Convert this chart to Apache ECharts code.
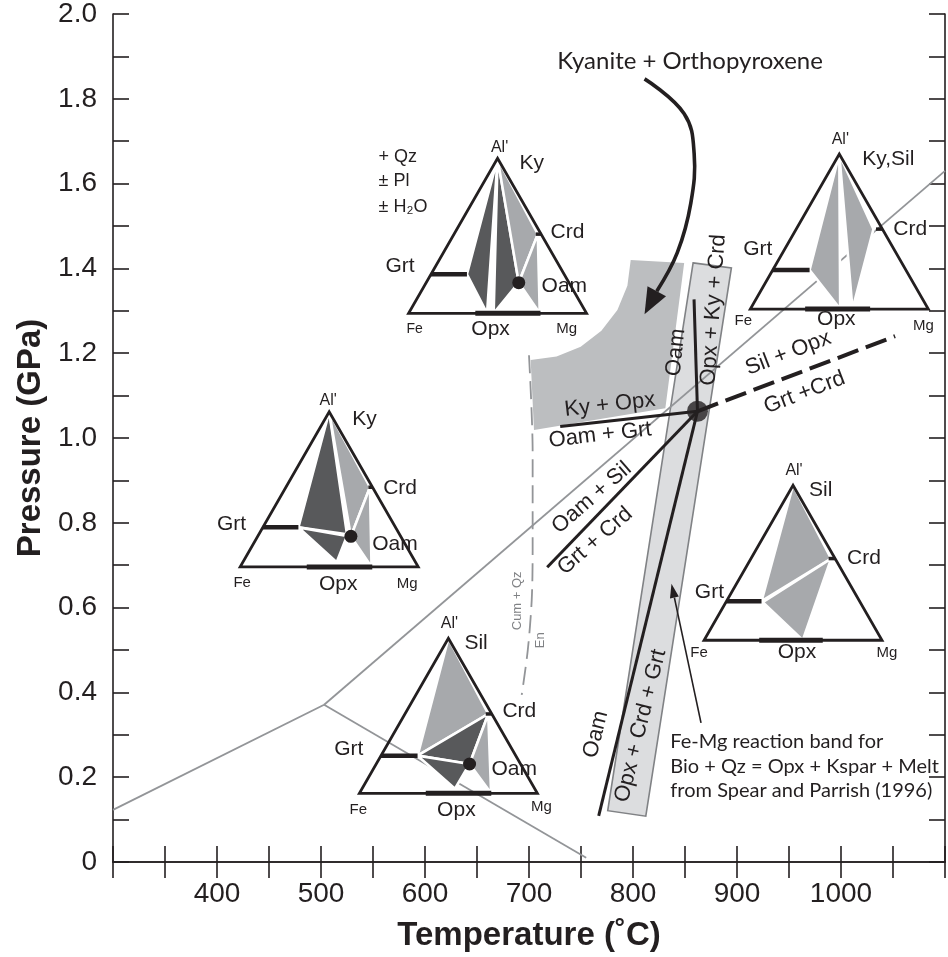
<!DOCTYPE html>
<html><head><meta charset="utf-8">
<script src="https://cdn.jsdelivr.net/npm/echarts@6/dist/echarts.min.js"></script>
<style>html,body{margin:0;padding:0;background:#fff}#c{width:948px;height:957px}</style>
</head><body><div id="c"></div>
<script>
// ===================== DATA (T in °C, P in GPa) =====================
const xLabelValues = [400, 500, 600, 700, 800, 900, 1000];
const yLabelValues = [0, 0.2, 0.4, 0.6, 0.8, 1.0, 1.2, 1.4, 1.6, 1.8, 2.0];

// Al2SiO5 triple-point reactions (thin grey)
const kyAnd = [[300, 0.123], [503, 0.371]];
const andSil = [[503, 0.371], [755, 0.01]];
const kySil = [[503, 0.371], [1100, 1.63]];

// invariant point and reactions (black)
const invariantPoint = [[862, 1.063]];
const kyOpxOamGrt = [[730, 1.027], [862, 1.063]];
const oamOpxKyCrd = [[858.7, 1.327], [862, 1.063]];
const oamSilGrtCrd = [[717.5, 0.695], [862, 1.063]];
const oamOpxCrdGrt = [[767, 0.109], [862, 1.063]];
const silOpxGrtCrd = [[862, 1.063], [1052, 1.240]];

// Cum + Qz = En (dashed grey)
const cumQzEn = [[700, 1.195], [703.5, 0.968], [703.5, 0.734], [702.6, 0.617], [698.8, 0.499], [693, 0.394]];

// Kyanite + Orthopyroxene field (concave upper-left boundary read point by point)
const kyOpxField = [[701.6, 1.184], [726.5, 1.192], [749.7, 1.215], [769.6, 1.253], [785.0, 1.302], [794.6, 1.359], [797.8, 1.420],
  [849.2, 1.413], [831.1, 1.070], [704.8, 1.019]];

// Fe-Mg reaction band (Spear & Parrish 1996)
const feMgBand = [[857.8, 1.413], [894.6, 1.401], [812.3, 0.108], [775.7, 0.121]];

// arrows
const kyOpxArrow = [[811.1, 1.847], [849.2, 1.765], [858.8, 1.671], [855.6, 1.554], [842.6, 1.437], [811.1, 1.292]];
const bandArrow = [[865.4, 0.328], [837.0, 0.656]];

// AFM-type ternary insets: anchor = Fe corner (T, P); compositions as (u along Fe-Mg, v toward Al')
const triAnchors = [[584.2, 1.294], [912.8, 1.304], [422.3, 0.696], [868.3, 0.523], [536.9, 0.162]];
const triPhases = [
  { // Ky field, + Qz ± Pl ± H2O
    polys: [['dark', [[0.5, 1], [0.328, 0.252], [0.441, 0]]], ['dark', [[0.5, 1], [0.478, 0], [0.619, 0.198]]],
            ['light', [[0.5, 1], [0.726, 0.511], [0.619, 0.198]]], ['light', [[0.726, 0.511], [0.619, 0.198], [0.737, 0]]]],
    grt: [0.328, 0.252], opx: [0.375, 0.741], crd: [0.715, 0.511], oam: [0.619, 0.198]
  },
  { // Ky,Sil
    polys: [['light', [[0.5, 1], [0.333, 0.252], [0.505, 0]]], ['light', [[0.5, 1], [0.574, 0], [0.692, 0.516]]]],
    grt: [0.333, 0.252], opx: [0.308, 0.673], crd: [0.706, 0.516], oam: null
  },
  { // Ky
    polys: [['dark', [[0.5, 1], [0.327, 0.255], [0.6, 0.21]]], ['dark', [[0.327, 0.255], [0.6, 0.2], [0.542, 0.03]]],
            ['light', [[0.5, 1], [0.729, 0.514], [0.622, 0.197]]], ['light', [[0.729, 0.514], [0.622, 0.197], [0.738, 0]]]],
    grt: [0.327, 0.255], opx: [0.374, 0.742], crd: [0.72, 0.514], oam: [0.622, 0.197]
  },
  { // Sil
    polys: [['light', [[0.5, 1], [0.323, 0.252], [0.714, 0.527]]], ['light', [[0.33, 0.245], [0.714, 0.527], [0.555, 0]]]],
    grt: [0.323, 0.252], opx: [0.31, 0.667], crd: [0.70, 0.527], oam: null
  },
  { // Sil with Oam
    polys: [['light', [[0.5, 1], [0.327, 0.243], [0.724, 0.512]]], ['dark', [[0.327, 0.243], [0.724, 0.512], [0.619, 0.189]]],
            ['dark', [[0.327, 0.243], [0.619, 0.189], [0.537, 0.03]]], ['light', [[0.724, 0.512], [0.619, 0.189], [0.74, 0]]]],
    grt: [0.327, 0.243], opx: [0.373, 0.741], crd: [0.71, 0.512], oam: [0.619, 0.189]
  }
];

// ===================== LAYOUT / STYLE =====================
const INK = '#231f20';
const FONT = '"Liberation Sans", Arial, sans-serif';
const HFONT = 'Lato, "Liberation Sans", sans-serif';
const TRI_W = 178, TRI_H = 155;
const GREY = { dark: '#58595b', light: '#a7a9ac' };

const triLabels = [
  [["Al'", 91, -166, 16, 'center'], ['Ky', 111, -150, 21, 'left'], ['Crd', 142, -81, 21, 'left'], ['Grt', 6, -47, 21, 'right'],
   ['Oam', 133, -27, 21, 'left'], ['Fe', 6, 16, 14, 'center'], ['Opx', 82, 16, 21, 'center'], ['Mg', 158, 16, 15, 'center'],
   ['+ Qz', -30, -156, 18, 'left'], ['\u00b1 Pl', -30, -132, 18, 'left'], ['\u00b1 H\u2082O', -30, -106, 18, 'left']],
  [["Al'", 90, -170, 16, 'center'], ['Ky,Sil', 112, -150, 21, 'left'], ['Crd', 143, -80, 21, 'left'], ['Grt', 22, -60, 21, 'right'],
   ['Fe', -7, 12, 15, 'center'], ['Opx', 86, 10, 21, 'center'], ['Mg', 173, 17, 15, 'center']],
  [["Al'", 88, -166, 16, 'center'], ['Ky', 112, -148, 21, 'left'], ['Crd', 143, -79, 21, 'left'], ['Grt', 6, -43, 21, 'right'],
   ['Oam', 132, -23, 21, 'left'], ['Fe', 2, 16, 15, 'center'], ['Opx', 98, 17, 21, 'center'], ['Mg', 167, 17, 15, 'center']],
  [["Al'", 90, -170, 16, 'center'], ['Sil', 105, -150, 21, 'left'], ['Crd', 143, -82, 21, 'left'], ['Grt', 20, -48, 21, 'right'],
   ['Fe', -5, 13, 15, 'center'], ['Opx', 93, 12, 21, 'center'], ['Mg', 183, 13, 15, 'center']],
  [["Al'", 90, -170, 16, 'center'], ['Sil', 105, -150, 21, 'left'], ['Crd', 143, -82, 21, 'left'], ['Grt', 4, -44, 21, 'right'],
   ['Oam', 132, -24, 21, 'left'], ['Fe', -1, 17, 15, 'center'], ['Opx', 97, 17, 21, 'center'], ['Mg', 182, 14, 15, 'center']]
];

const annotations = [
  { text: 'Ky + Opx', at: [777.8, 1.078], rot: 6.5, size: 22 },
  { text: 'Oam + Grt', at: [768.3, 1.007], rot: 6.5, size: 22 },
  { text: 'Oam + Sil', at: [760.4, 0.859], rot: 41, size: 22 },
  { text: 'Grt + Crd', at: [763.5, 0.757], rot: 41, size: 22 },
  { text: 'Oam', at: [841.3, 1.202], rot: 84, size: 22 },
  { text: 'Opx + Ky + Crd', at: [877.4, 1.302], rot: 86, size: 22 },
  { text: 'Sil + Opx', at: [949.2, 1.200], rot: 21, size: 22 },
  { text: 'Grt +Crd', at: [965, 1.107], rot: 21, size: 22 },
  { text: 'Oam', at: [764.3, 0.301], rot: 76, size: 22 },
  { text: 'Opx + Crd + Grt', at: [807.3, 0.321], rot: 76, size: 22 },
  { text: 'Cum + Qz', at: [688.8, 0.616], rot: 90, size: 13, color: '#808285' },
  { text: 'En', at: [711.1, 0.523], rot: 90, size: 13, color: '#808285' },
  { text: 'Kyanite + Orthopyroxene', at: [982.6, 1.889], rot: 0, size: 24, font: HFONT, align: 'right' },
  { text: 'Fe-Mg reaction band for', at: [835.9, 0.285], rot: 0, size: 20, font: HFONT, align: 'left' },
  { text: 'Bio + Qz = Opx + Kspar + Melt', at: [835.9, 0.226], rot: 0, size: 20, font: HFONT, align: 'left' },
  { text: 'from Spear and Parrish (1996)', at: [835.9, 0.168], rot: 0, size: 20, font: HFONT, align: 'left' }
];

// ===================== HELPERS =====================
function lineSeries(data, color, width, type, z, smooth) {
  return { type: 'line', data, symbol: 'none', showSymbol: false, silent: true, smooth: smooth || false, z,
    lineStyle: { color, width, type: type || 'solid', cap: 'butt' }, animation: false };
}
function polySeries(pts, style, z) {
  return { type: 'custom', data: pts, z, silent: true, animation: false,
    renderItem: (params, api) => {
      if (params.dataIndex !== 0) return null;
      return { type: 'polygon', shape: { points: pts.map(d => api.coord(d)) }, style };
    } };
}
function arrowSeries(pts, width, headLen, headW, smooth, z) {
  return { type: 'custom', data: pts, z, silent: true, animation: false,
    renderItem: (params, api) => {
      if (params.dataIndex !== 0) return null;
      const p = pts.map(d => api.coord(d));
      const n = p.length, tip = p[n - 1], prev = p[n - 2];
      let dx = tip[0] - prev[0], dy = tip[1] - prev[1];
      const L = Math.hypot(dx, dy); dx /= L; dy /= L;
      const base = [tip[0] - dx * headLen, tip[1] - dy * headLen];
      const linePts = p.slice(0, n - 1).concat([base]);
      const left = [base[0] - dy * headW / 2, base[1] + dx * headW / 2];
      const right = [base[0] + dy * headW / 2, base[1] - dx * headW / 2];
      return { type: 'group', children: [
        { type: 'polyline', shape: { points: linePts, smooth: smooth }, style: { stroke: INK, lineWidth: width, fill: null } },
        { type: 'polygon', shape: { points: [tip, left, right] }, style: { fill: INK } }
      ] };
    } };
}

const triSeries = {
  type: 'custom', data: triAnchors, z: 4, silent: true, animation: false,
  renderItem: (params, api) => {
    const i = params.dataIndex;
    const o = api.coord(triAnchors[i]);
    const ph = triPhases[i];
    const P = (u, v) => [o[0] + u * TRI_W, o[1] - v * TRI_H];
    const ch = [];
    ph.polys.forEach(([tone, pts]) => {
      ch.push({ type: 'polygon', shape: { points: pts.map(q => P(q[0], q[1])) },
        style: { fill: GREY[tone], stroke: '#fff', lineWidth: 2.6, lineJoin: 'miter' } });
    });
    ch.push({ type: 'polygon', shape: { points: [P(0, 0), P(1, 0), P(0.5, 1)] },
      style: { fill: null, stroke: INK, lineWidth: 2.8, lineJoin: 'miter' } });
    const g = ph.grt;
    ch.push({ type: 'line', shape: { x1: P(g[1] / 2, g[1])[0], y1: P(0, g[1])[1], x2: P(g[0], g[1])[0], y2: P(0, g[1])[1] },
      style: { stroke: INK, lineWidth: 4.5 } });
    ch.push({ type: 'line', shape: { x1: P(ph.opx[0], 0)[0], y1: o[1], x2: P(ph.opx[1], 0)[0], y2: o[1] },
      style: { stroke: INK, lineWidth: 5 } });
    const c = ph.crd;
    ch.push({ type: 'line', shape: { x1: P(c[0], c[1])[0], y1: P(0, c[1])[1], x2: P(1 - c[1] / 2, c[1])[0], y2: P(0, c[1])[1] },
      style: { stroke: INK, lineWidth: 3.5 } });
    if (ph.oam) {
      const d = P(ph.oam[0], ph.oam[1]);
      ch.push({ type: 'circle', shape: { cx: d[0], cy: d[1], r: 6.5 }, style: { fill: INK } });
    }
    triLabels[i].forEach(([t, dx, dy, fs, al]) => {
      ch.push({ type: 'text', x: o[0] + dx, y: o[1] + dy,
        style: { text: t, fontSize: fs, fontFamily: FONT, fill: INK, align: al, verticalAlign: 'middle' } });
    });
    return { type: 'group', children: ch };
  }
};

const labelSeries = {
  type: 'custom', data: annotations.map(a => a.at), z: 8, silent: true, animation: false,
  renderItem: (params, api) => {
    const a = annotations[params.dataIndex];
    const p = api.coord(a.at);
    return { type: 'text', x: p[0], y: p[1], rotation: a.rot * Math.PI / 180,
      style: { text: a.text, fontSize: a.size, fontFamily: a.font || FONT, fill: a.color || INK,
        align: a.align || 'center', verticalAlign: 'middle' } };
  }
};

const axisCommon = {
  axisLine: { lineStyle: { color: INK, width: 1.6 } },
  axisTick: { inside: true, length: 16, lineStyle: { color: INK, width: 1.6 } },
  splitLine: { show: false }
};

const option = {
  backgroundColor: '#fff',
  animation: false,
  grid: { left: 113, right: -5, top: 10, bottom: 94, containLabel: false },
  xAxis: [
    Object.assign({ type: 'value', min: 300, max: 1100, interval: 50, position: 'bottom',
      axisLabel: { fontSize: 28, color: INK, fontFamily: FONT, margin: 18,
        formatter: v => xLabelValues.includes(Math.round(v)) ? String(Math.round(v)) : '' },
      name: 'Temperature (\u02daC)', nameLocation: 'middle', nameGap: 57,
      nameTextStyle: { fontSize: 33, fontWeight: 'bold', color: INK, fontFamily: FONT } }, axisCommon),
    Object.assign({ type: 'value', min: 300, max: 1100, interval: 50, position: 'top', axisLabel: { show: false } }, axisCommon)
  ],
  yAxis: [
    Object.assign({ type: 'value', min: 0, max: 2, interval: 0.1, position: 'left',
      axisLabel: { fontSize: 28, color: INK, fontFamily: FONT, margin: 16,
        formatter: v => { const k = Math.round(v * 10); if (k % 2) return ''; const val = k / 10;
          return yLabelValues.includes(val) ? (val === 0 ? '0' : val.toFixed(1)) : ''; } },
      name: 'Pressure (GPa)', nameLocation: 'middle', nameGap: 65, nameRotate: 90,
      nameTextStyle: { fontSize: 33, fontWeight: 'bold', color: INK, fontFamily: FONT } }, axisCommon),
    Object.assign({ type: 'value', min: 0, max: 2, interval: 0.1, position: 'right', axisLabel: { show: false } }, axisCommon)
  ],
  series: [
    polySeries(kyOpxField, { fill: '#bcbec0' }, 1),
    polySeries(feMgBand, { fill: '#dcdddf', stroke: '#808285', lineWidth: 1.6 }, 2),
    lineSeries(kyAnd, '#939598', 1.8, 'solid', 3),
    lineSeries(andSil, '#939598', 1.8, 'solid', 3),
    lineSeries(kySil, '#939598', 1.8, 'solid', 3),
    lineSeries(cumQzEn, '#939598', 1.8, [18, 8], 3, 0.3),
    triSeries,
    lineSeries(kyOpxOamGrt, INK, 3, 'solid', 5),
    lineSeries(oamOpxKyCrd, INK, 3, 'solid', 5),
    lineSeries(oamSilGrtCrd, INK, 3, 'solid', 5),
    lineSeries(oamOpxCrdGrt, INK, 3, 'solid', 5),
    lineSeries(silOpxGrtCrd, INK, 4, [22, 8], 5),
    { type: 'scatter', data: invariantPoint, symbol: 'circle', symbolSize: 21, itemStyle: { color: INK }, z: 6, silent: true, animation: false },
    arrowSeries(kyOpxArrow, 3.6, 26, 21, 0.4, 6),
    arrowSeries(bandArrow, 1.6, 14, 9, 0, 6),
    labelSeries
  ]
};

const chart = echarts.init(document.getElementById('c'), null, { renderer: 'canvas' });
chart.setOption(option);
</script>
</body></html>
